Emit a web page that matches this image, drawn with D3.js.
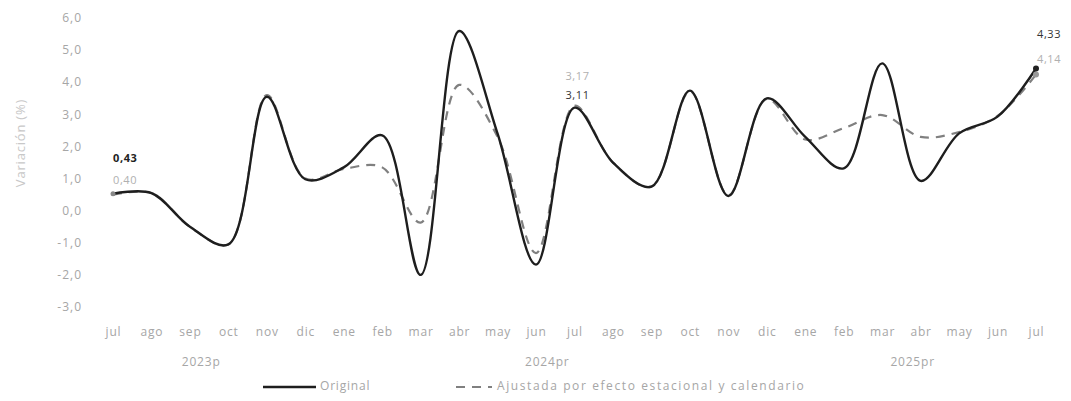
<!DOCTYPE html>
<html>
<head>
<meta charset="utf-8">
<script src="https://cdn.jsdelivr.net/npm/d3@7"></script>
<style>
  html, body { margin: 0; padding: 0; background: #fff; }
  svg { display: block; font-family: "Open Sans", "DejaVu Sans", sans-serif; }
</style>
</head>
<body>
<svg id="chart" width="1071" height="401"></svg>
<script>
// ---- data ----
const months = ["jul","ago","sep","oct","nov","dic","ene","feb","mar","abr","may","jun",
                "jul","ago","sep","oct","nov","dic","ene","feb","mar","abr","may","jun","jul"];
const original = [0.43, 0.45, -0.60, -1.15, 3.45, 0.88, 1.25, 2.25, -2.10, 5.50, 2.30, -1.78,
                  3.11, 1.40, 0.65, 3.64, 0.36, 3.40, 2.20, 1.22, 4.49, 0.83, 2.31, 2.83, 4.33];
const adjusted = [0.40, 0.45, -0.60, -1.15, 3.50, 0.90, 1.20, 1.25, -0.47, 3.82, 2.20, -1.42,
                  3.17, 1.40, 0.65, 3.62, 0.38, 3.38, 2.12, 2.47, 2.88, 2.20, 2.35, 2.85, 4.14];
const yTicks = [-3, -2, -1, 0, 1, 2, 3, 4, 5, 6];
const yearLabels = ["2023p", "2024pr", "2025pr"];
const yearFirst = [0, 6, 18];   // first month index of each year group
const yearLast = [5, 17, 24];   // last month index of each year group
const seriesNames = ["Original", "Ajustada por efecto estacional y calendario"];
const yTitle = "Variación (%)";

// ---- layout ----
const svg = d3.select("#chart");
const idx = d3.range(months.length);
const x = d3.scalePoint().domain(idx).range([113, 1036]);
const y = d3.scaleLinear().domain([-3, 6]).range([303.8, 14.9]);
const fmt = v => d3.format(".2f")(v).replace(".", ",");
const fmt1 = v => d3.format(".1f")(v).replace(".", ",").replace("−", "-");

const labelColor = "#a6a6a6";

// y axis
const yAxis = svg.append("g")
  .attr("transform", "translate(88,3)")
  .call(d3.axisLeft(y).tickValues(yTicks).tickSize(0).tickPadding(6).tickFormat(fmt1));
yAxis.select(".domain").remove();
yAxis.selectAll("text")
  .attr("fill", labelColor).attr("font-size", 12).attr("letter-spacing", "1px")
  .style("font-family", "'Open Sans', sans-serif");

// x axis (months)
const xAxis = svg.append("g")
  .attr("transform", "translate(0,320)")
  .call(d3.axisBottom(x).tickSize(0).tickPadding(7).tickFormat(i => months[i]));
xAxis.select(".domain").remove();
xAxis.selectAll("text")
  .attr("fill", labelColor).attr("font-size", 12).attr("letter-spacing", "0.8px")
  .style("font-family", "'Open Sans', sans-serif");

// year labels (centred under their months)
svg.append("g").selectAll("text").data(yearLabels).join("text")
  .attr("x", (d, i) => (x(yearFirst[i]) + x(yearLast[i])) / 2 - 8)
  .attr("y", 366)
  .attr("text-anchor", "middle")
  .attr("fill", labelColor).attr("font-size", 12).attr("letter-spacing", "0.8px")
  .text(d => d);

// y title
svg.append("text")
  .attr("transform", "translate(25,143) rotate(-90)")
  .attr("text-anchor", "middle")
  .attr("fill", "#c8c8c8").attr("font-size", 13).attr("letter-spacing", "0.8px")
  .text(yTitle);

// lines
const line = d3.line().x((d, i) => x(i)).y(d => y(d)).curve(d3.curveCatmullRom.alpha(0.5));
svg.append("path").datum(adjusted)
  .attr("d", line).attr("fill", "none")
  .attr("stroke", "#808080").attr("stroke-width", 2.2).attr("stroke-dasharray", "9,7");
svg.append("path").datum(original)
  .attr("d", line).attr("fill", "none")
  .attr("stroke", "#1e1e1e").attr("stroke-width", 2.4);

// end markers
const last = months.length - 1;
svg.append("circle").attr("cx", x(last)).attr("cy", y(adjusted[last])).attr("r", 3).attr("fill", "#999");
svg.append("circle").attr("cx", x(last)).attr("cy", y(original[last])).attr("r", 3).attr("fill", "#222");
svg.append("circle").attr("cx", x(0)).attr("cy", y(original[0])).attr("r", 2.5).attr("fill", "#888");

// annotations
const ann = [
  {i: 0, v: original[0], dy: -35, anchor: "start", dx: 0, color: "#222", weight: "bold"},
  {i: 0, v: adjusted[0], dy: -13, anchor: "start", dx: 0, color: "#b0b0b0", weight: "normal"},
  {i: 12, v: original[12], dy: -12, anchor: "middle", dx: 3, color: "#333", weight: "normal"},
  {i: 12, v: adjusted[12], dy: -31, anchor: "middle", dx: 3, color: "#b0b0b0", weight: "normal"},
  {i: last, v: original[last], dy: -33, anchor: "start", dx: 1, color: "#333", weight: "normal"},
  {i: last, v: adjusted[last], dy: -8, anchor: "start", dx: 1, color: "#b0b0b0", weight: "normal"}
];
svg.append("g").selectAll("text").data(ann).join("text")
  .attr("x", d => x(d.i) + d.dx)
  .attr("y", d => y(original[d.i]) + d.dy)
  .attr("dominant-baseline", "middle")
  .attr("text-anchor", d => d.anchor)
  .attr("fill", d => d.color).attr("font-weight", d => d.weight)
  .attr("font-size", 11).attr("letter-spacing", "0.6px")
  .text(d => fmt(d.v));

// legend
const lg = svg.append("g");
const ly = 387;
lg.append("line").attr("x1", 263).attr("x2", 316).attr("y1", ly).attr("y2", ly)
  .attr("stroke", "#1e1e1e").attr("stroke-width", 2.4);
lg.append("text").attr("x", 320).attr("y", ly).attr("dominant-baseline", "middle")
  .attr("fill", labelColor).attr("font-size", 12).attr("letter-spacing", "0.8px").text(seriesNames[0]);
lg.append("line").attr("x1", 456).attr("x2", 492).attr("y1", ly).attr("y2", ly)
  .attr("stroke", "#808080").attr("stroke-width", 2.2).attr("stroke-dasharray", "9,7");
lg.append("text").attr("x", 497).attr("y", ly).attr("dominant-baseline", "middle")
  .attr("fill", labelColor).attr("font-size", 12).attr("letter-spacing", "1.6px").text(seriesNames[1]);
</script>
</body>
</html>
